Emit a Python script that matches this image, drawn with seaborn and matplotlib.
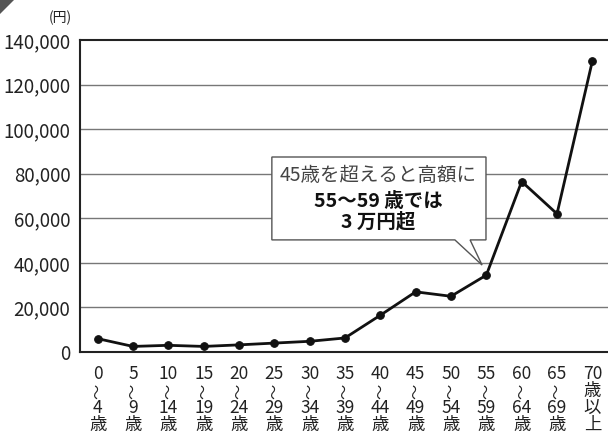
import matplotlib
matplotlib.use("Agg")
import matplotlib.pyplot as plt
from matplotlib.patches import Polygon
import seaborn as sns
import pandas as pd

# 年齢階級別データ（単位：円）
age_from = ["0", "5", "10", "15", "20", "25", "30", "35", "40", "45", "50", "55", "60", "65", "70"]
age_to = ["4", "9", "14", "19", "24", "29", "34", "39", "44", "49", "54", "59", "64", "69", ""]
amount = [6000, 2500, 3000, 2500, 3200, 4000, 4800, 6300, 16500, 27000, 25000, 34500, 76500, 62000, 130500]

df = pd.DataFrame({"pos": range(len(amount)), "amount": amount})

sns.set_style("white")
plt.rcParams["font.family"] = ["Noto Sans CJK JP", "DejaVu Sans"]

fig = plt.figure(figsize=(6.08, 4.34), dpi=100)
ax = fig.add_axes([80 / 608, 82 / 434, 530 / 608, 312 / 434])

sns.lineplot(data=df, x="pos", y="amount", ax=ax, color="#111111", linewidth=2,
             marker="o", markersize=5.5, markeredgecolor="#111111")

ax.set_xlim(-0.5, 14.5)
ax.set_ylim(0, 140000)
ax.set_yticks(range(0, 140001, 20000))
ax.set_yticklabels([f"{v:,}" for v in range(0, 140001, 20000)], fontsize=13.5, color="#222222")
ax.set_xticks(range(len(amount)))
ax.set_xticklabels([""] * len(amount))
ax.set_xlabel("")
ax.set_ylabel("")
for v in range(20000, 140000, 20000):
    ax.axhline(v, color="#777777", linewidth=1, zorder=0)

ax.tick_params(axis="x", direction="out", length=5, width=1.5, color="#222222")
ax.tick_params(axis="y", length=0, pad=7)
for s in ["left", "bottom", "top"]:
    ax.spines[s].set_color("#222222")
    ax.spines[s].set_linewidth(1.5)
ax.spines["right"].set_visible(False)

# 縦書き風の目盛りラベル（〜は90度回転）
tr = ax.get_xaxis_transform()
rows = [-22 / 312, -39 / 312, -56 / 312, -73 / 312]
for i, (a, b) in enumerate(zip(age_from, age_to)):
    kw = dict(transform=tr, ha="center", va="center", color="#222222", clip_on=False)
    ax.text(i, rows[0], a, fontsize=12.5, **kw)
    if b:
        ax.text(i, rows[1], "〜", fontsize=11, rotation=90, **kw)
        ax.text(i, rows[2], b, fontsize=12.5, **kw)
        ax.text(i, rows[3], "歳", fontsize=12.5, **kw)
    else:
        for r, ch in zip(rows[1:], "歳以上"):
            ax.text(i, r, ch, fontsize=12.5, **kw)

fig.text(60 / 608, 1 - 18 / 434, "(円)", fontsize=10, ha="center", va="center", color="#222222")

# 吹き出し
callout = Polygon([(4.93, 87500), (10.99, 87500), (10.99, 50300), (10.54, 50300),
                   (10.88, 39000), (10.11, 50300), (4.93, 50300)],
                  closed=True, facecolor="white", edgecolor="#555555", linewidth=1, zorder=5)
ax.add_patch(callout)
ax.text(7.95, 79000, "45歳を超えると高額に", ha="center", va="center", fontsize=14,
        color="#444444", zorder=6)
ax.text(7.95, 67700, "55〜59 歳では", ha="center", va="center", fontsize=14,
        fontweight="bold", color="#111111", zorder=6)
ax.text(7.95, 58300, "3 万円超", ha="center", va="center", fontsize=14,
        fontweight="bold", color="#111111", zorder=6)

# 左上の飾り
fig.patches.append(Polygon([(0, 1), (14 / 608, 1), (0, 1 - 14 / 434)], closed=True,
                           transform=fig.transFigure, facecolor="#555555", edgecolor="none"))

plt.savefig("out.png", dpi=100)
plt.close()
